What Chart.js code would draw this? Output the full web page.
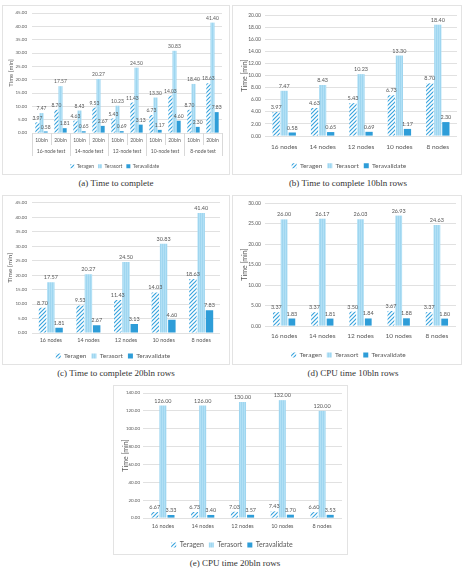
<!DOCTYPE html>
<html><head><meta charset="utf-8">
<script src="https://cdn.jsdelivr.net/npm/chart.js@4/dist/chart.umd.min.js"></script>
<style>
html,body{margin:0;padding:0;background:#fff}
body{width:464px;height:570px;position:relative;overflow:hidden;font-family:Lato,sans-serif}
.box{position:absolute;border:1px solid #e3e3e3;box-sizing:border-box;background:#fff}
canvas{position:absolute}
.cap{position:absolute;font-family:'Liberation Serif',serif;font-size:9px;line-height:10px;color:#333;font-weight:normal;white-space:nowrap;transform:translate(-50%,-50%)}
</style></head><body>
<div class="box" style="left:2px;top:5px;width:228px;height:170px"></div>
<div class="box" style="left:232px;top:5px;width:230px;height:170px"></div>
<div class="box" style="left:2px;top:195px;width:228px;height:170px"></div>
<div class="box" style="left:232px;top:195px;width:230px;height:170px"></div>
<div class="box" style="left:113px;top:385px;width:235px;height:170px"></div>
<canvas id="ca" width="228" height="170" style="left:2px;top:5px"></canvas>
<canvas id="cb" width="230" height="170" style="left:232px;top:5px"></canvas>
<canvas id="cc" width="228" height="170" style="left:2px;top:195px"></canvas>
<canvas id="cd" width="230" height="170" style="left:232px;top:195px"></canvas>
<canvas id="ce" width="235" height="170" style="left:113px;top:385px"></canvas>
<div class="cap" style="left:116px;top:183px">(a) Time to complete</div>
<div class="cap" style="left:348px;top:183px">(b) Time to complete 10bln rows</div>
<div class="cap" style="left:116px;top:373px">(c) Time to complete 20bln rows</div>
<div class="cap" style="left:353px;top:373px">(d) CPU time 10bln rows</div>
<div class="cap" style="left:235px;top:563px">(e) CPU time 20bln rows</div>
<script>
// ---- data ----
const nodes = ['16 nodes','14 nodes','12 nodes','10 nodes','8 nodes'];
const nodeTests = ['16-node test','14-node test','12-node test','10-node test','8-node test'];
const sizes = ['10bln','20bln'];
const seriesNames = ['Teragen','Terasort','Teravalidate'];
const teragen10 = [3.97,4.63,5.43,6.73,8.70];
const terasort10 = [7.47,8.43,10.23,13.30,18.40];
const teravalidate10 = [0.58,0.65,0.69,1.17,2.30];
const teragen20 = [8.70,9.53,11.43,14.03,18.63];
const terasort20 = [17.57,20.27,24.50,30.83,41.40];
const teravalidate20 = [1.81,2.67,3.13,4.60,7.83];
const cpuTeragen10 = [3.37,3.37,3.50,3.67,3.37];
const cpuTerasort10 = [26.00,26.17,26.03,26.93,24.63];
const cpuTeravalidate10 = [1.83,1.81,1.84,1.88,1.80];
const cpuTeragen20 = [6.67,6.73,7.03,7.43,6.60];
const cpuTerasort20 = [126.00,126.00,130.00,132.00,120.00];
const cpuTeravalidate20 = [3.33,3.40,3.57,3.70,3.53];
const yTitle = 'Time [min]';

// combined (a): each node test split into 10bln / 20bln
const combLabels = nodeTests.flatMap(() => sizes);
const mix = (a, b) => a.flatMap((v, i) => [v, b[i]]);

// ---- styles ----
const FONT = 'Lato';
const TXT = '#595959';
function hatch() {
  const c = document.createElement('canvas'); c.width = 4; c.height = 4;
  const x = c.getContext('2d');
  x.fillStyle = '#ffffff'; x.fillRect(0, 0, 4, 4);
  x.strokeStyle = '#3aa4de'; x.lineWidth = 1.2;
  x.beginPath();
  x.moveTo(0, 4); x.lineTo(4, 0);
  x.moveTo(-1, 1); x.lineTo(1, -1);
  x.moveTo(3, 5); x.lineTo(5, 3);
  x.stroke();
  return x.createPattern(c, 'repeat');
}
function vstripe() {
  const c = document.createElement('canvas'); c.width = 2; c.height = 1;
  const x = c.getContext('2d');
  x.fillStyle = '#9fd6f0'; x.fillRect(0, 0, 1, 1);
  x.fillStyle = '#b2e0f5'; x.fillRect(1, 0, 1, 1);
  return x.createPattern(c, 'repeat');
}
const fills = [hatch(), vstripe(), '#2e9dd8'];

const valueLabels = {
  id: 'valueLabels',
  afterDatasetsDraw(chart, args, opts) {
    const ctx = chart.ctx; ctx.save();
    ctx.font = (opts.size || 5) + 'px ' + FONT;
    ctx.fillStyle = TXT; ctx.textAlign = 'center'; ctx.textBaseline = 'bottom';
    chart.data.datasets.forEach((ds, i) => {
      chart.getDatasetMeta(i).data.forEach((bar, j) => {
        ctx.fillText(Number(ds.data[j]).toFixed(2), bar.x, bar.y - 2);
      });
    });
    ctx.restore();
  }
};
Chart.register(valueLabels);

const separators = {
  id: 'separators',
  afterDraw(chart) {
    const s = chart.scales.x, ca = chart.chartArea, ctx = chart.ctx;
    const n = s.getLabels().length;
    const step = s.getPixelForValue(1) - s.getPixelForValue(0);
    ctx.save(); ctx.strokeStyle = '#d9d9d9'; ctx.lineWidth = 1;
    for (let i = 0; i <= n; i++) {
      const px = Math.round(s.getPixelForValue(Math.min(i, n - 1)) + (i < n ? -step / 2 : step / 2)) + 0.5;
      const len = (i % 2 === 0) ? 23 : 12;
      ctx.beginPath(); ctx.moveTo(px, ca.bottom); ctx.lineTo(px, ca.bottom + len); ctx.stroke();
    }
    ctx.restore();
  }
};

function build(id, o) {
  const pl = o.titleC - o.titleSize * 1.2 / 2;
  const legendTop = o.legendC - o.legendSize / 2 - o.legendPad;
  const xH = o.groupC ? 11 : legendTop - o.B;
  const scales = {
    y: {
      min: 0, max: o.yMax,
      ticks: { stepSize: o.yStep, font: { size: o.yTick, family: FONT }, color: TXT,
               padding: o.L - o.yTickRight, callback: v => Number(v).toFixed(2) },
      grid: { color: '#d9d9d9', lineWidth: 0.8, drawTicks: false },
      border: { display: false },
      title: { display: true, text: yTitle, font: { size: o.titleSize, family: FONT }, color: TXT, padding: 0 },
      afterFit: s => { s.width = o.L - pl; }
    },
    x: {
      weight: 0,
      ticks: { font: { size: o.xTick, family: FONT }, color: TXT, autoSkip: false, maxRotation: 0,
               padding: o.xLabelC - o.B - o.xTick * 0.6 },
      grid: { display: false, drawTicks: false },
      border: { display: false },
      afterFit: s => { s.height = xH; }
    }
  };
  if (o.groupC) {
    scales.x2 = {
      type: 'category', labels: o.groupLabels, position: 'bottom', offset: true, weight: 1,
      ticks: { font: { size: o.xTick, family: FONT }, color: TXT, autoSkip: false, maxRotation: 0,
               padding: o.groupC - (o.B + xH) - o.xTick * 0.6 },
      grid: { display: false, drawTicks: false },
      border: { display: false },
      afterFit: s => { s.height = legendTop - o.B - xH; }
    };
  }
  new Chart(document.getElementById(id), {
    type: 'bar',
    data: {
      labels: o.labels,
      datasets: o.series.map((d, i) => ({
        label: seriesNames[i], data: d, backgroundColor: fills[i], borderWidth: 0,
        categoryPercentage: o.cat, barPercentage: o.bar
      }))
    },
    options: {
      responsive: false, animation: false, devicePixelRatio: 1,
      layout: { padding: { left: pl, right: o.W - o.R, top: o.T, bottom: 0 } },
      scales,
      plugins: {
        legend: {
          position: 'bottom', maxHeight: o.H - legendTop,
          labels: { boxWidth: o.box, boxHeight: o.box, padding: o.legendPad,
                    font: { size: o.legendSize, family: FONT }, color: TXT }
        },
        tooltip: { enabled: false },
        valueLabels: { size: o.dataSize }
      }
    },
    plugins: o.groupC ? [separators] : []
  });
}

build('ca', { W: 228, H: 170, L: 30, T: 8, R: 220, B: 128, titleC: 9, titleSize: 6, yTick: 4.5, yTickRight: 25,
  xTick: 5, xLabelC: 135, groupC: 146.7, groupLabels: nodeTests, legendC: 161.3, legendSize: 5, legendPad: 4, box: 4,
  dataSize: 5, yMax: 45, yStep: 5, cat: 0.65, bar: 1, labels: combLabels,
  series: [mix(teragen10, teragen20), mix(terasort10, terasort20), mix(teravalidate10, teravalidate20)] });

build('cb', { W: 230, H: 170, L: 33, T: 10, R: 225, B: 131, titleC: 13, titleSize: 7, yTick: 5, yTickRight: 29,
  xTick: 6.5, xLabelC: 141.7, legendC: 160.8, legendSize: 6.5, legendPad: 5, box: 5,
  dataSize: 5.5, yMax: 20, yStep: 2, cat: 0.63, bar: 0.9, labels: nodes,
  series: [teragen10, terasort10, teravalidate10] });

build('cc', { W: 228, H: 170, L: 30, T: 7, R: 218, B: 138, titleC: 8, titleSize: 6.5, yTick: 4.5, yTickRight: 25,
  xTick: 5.5, xLabelC: 145.7, legendC: 161, legendSize: 6.5, legendPad: 5, box: 5,
  dataSize: 5.5, yMax: 45, yStep: 5, cat: 0.66, bar: 0.9, labels: nodes,
  series: [teragen20, terasort20, teravalidate20] });

build('cd', { W: 230, H: 170, L: 33, T: 8, R: 224, B: 131, titleC: 13, titleSize: 7, yTick: 5, yTickRight: 29,
  xTick: 6.5, xLabelC: 141, legendC: 160, legendSize: 6.5, legendPad: 5, box: 5,
  dataSize: 5.5, yMax: 30, yStep: 5, cat: 0.61, bar: 0.87, labels: nodes,
  series: [cpuTeragen10, cpuTerasort10, cpuTeravalidate10] });

build('ce', { W: 235, H: 170, L: 30, T: 8, R: 229, B: 133, titleC: 13, titleSize: 7, yTick: 4.5, yTickRight: 27,
  xTick: 5.5, xLabelC: 141.7, legendC: 160, legendSize: 7, legendPad: 5, box: 5,
  dataSize: 5.5, yMax: 140, yStep: 20, cat: 0.61, bar: 0.87, labels: nodes,
  series: [cpuTeragen20, cpuTerasort20, cpuTeravalidate20] });
</script>
</body></html>
